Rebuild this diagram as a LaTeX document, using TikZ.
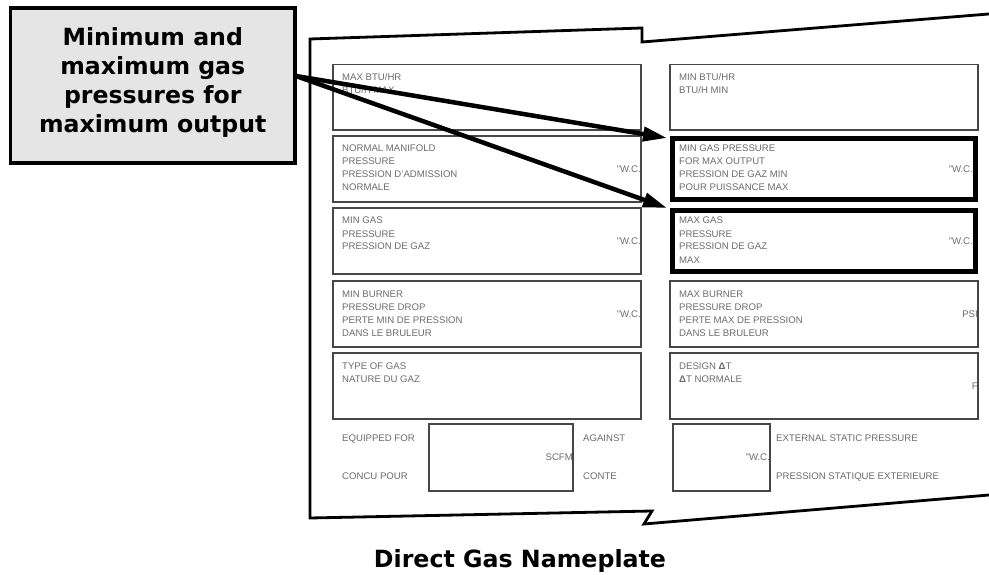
\documentclass[tikz,border=0pt]{standalone}
\usepackage{fontspec}
\setmainfont{Liberation Sans}
\newfontfamily\calfont{DejaVu Sans}
\usetikzlibrary{arrows.meta}
\def\uoff{0}
\newcommand\fieldbox[7][field]{%
  \node[#1, anchor=north west, minimum width={#5-#3}, minimum height={#6-#4}] (#2) at (#3,#4) {};
  \foreach \t [count=\i] in {#7} {\node[lbl] (#2-l\i) at ([shift={(9,3+13*\i)}]#2.north west) {\t};}
}
\newcommand\unitlabel[2]{\node[unit] (#1-u) at ([shift={(\uoff,3.4)}]#1.east) {#2};}
\begin{document}
\begin{tikzpicture}[x=1pt,y=-1pt,
  field/.style={draw=black!72, line width=1.1pt, inner sep=0pt, outer sep=0pt, rectangle},
  hotline/.style={draw=black, line width=5pt},
  lbl/.style={anchor=base west, inner sep=0pt, text=black!58, font=\fontsize{9.6}{11}\selectfont},
  unit/.style={anchor=base east, inner sep=0pt, text=black!58, font=\fontsize{9.6}{11}\selectfont},
  plate/.style={line width=2.8pt, line join=miter},
  pointer/.style={line width=4.5pt, -{Triangle[length=24pt,width=14pt]}},
  callbox/.style={draw=black, line width=3.5pt, fill=black!10, rectangle, inner sep=0pt},
  calltext/.style={align=center, inner sep=0pt, font=\calfont\bfseries\fontsize{23.6}{29}\selectfont},
  titletext/.style={inner sep=0pt, font=\calfont\bfseries\fontsize{23.7}{28}\selectfont}]
\useasboundingbox (0,0) rectangle (989,575);

% plate outline with break marks
\draw[plate] (995,13.5) -- (642,42) -- (642,28) -- (310,39) -- (310,518) -- (652,511) -- (644,524) -- (995,494.5);

% left column
\fieldbox{l1}{333}{64.5}{641}{130}{MAX BTU/HR,BTU/H MAX}
\fieldbox{l2}{333}{136}{641}{202}{NORMAL MANIFOLD,PRESSURE,PRESSION D'ADMISSION,NORMALE}
\unitlabel{l2}{"W.C.}
\fieldbox{l3}{333}{208}{641}{274}{MIN GAS,PRESSURE,PRESSION DE GAZ}
\unitlabel{l3}{"W.C.}
\fieldbox{l4}{333}{281}{641}{347}{MIN BURNER,PRESSURE DROP,PERTE MIN DE PRESSION,DANS LE BRULEUR}
\unitlabel{l4}{"W.C.}
\fieldbox{l5}{333}{353}{641}{419}{TYPE OF GAS,NATURE DU GAZ}

% right column
\fieldbox{r1}{670}{64.5}{978}{130}{MIN BTU/HR,BTU/H MIN}
\fieldbox[field,draw=none]{r2}{670}{136}{978}{202}{MIN GAS PRESSURE,FOR MAX OUTPUT,PRESSION DE GAZ MIN,POUR PUISSANCE MAX}
\draw[hotline] ([shift={(2.5,2.5)}]r2.north west) rectangle ([shift={(-2.5,-2.5)}]r2.south east);
\fieldbox[field,draw=none]{r3}{670}{208}{978}{274}{MAX GAS,PRESSURE,PRESSION DE GAZ,MAX}
\draw[hotline] ([shift={(2.5,2.5)}]r3.north west) rectangle ([shift={(-2.5,-2.5)}]r3.south east);
{\def\uoff{-5}\unitlabel{r2}{"W.C.}\unitlabel{r3}{"W.C.}}
\fieldbox{r4}{670}{281}{978}{347}{MAX BURNER,PRESSURE DROP,PERTE MAX DE PRESSION,DANS LE BRULEUR}
\unitlabel{r4}{PSI}
\fieldbox{r5}{670}{353}{978}{419}{DESIGN \textbf{Δ}T,\textbf{Δ}T NORMALE}
\unitlabel{r5}{F}

% bottom row
\node[field, anchor=north west, minimum width=144, minimum height=67] (scfm) at (429,424) {};
\unitlabel{scfm}{SCFM}
\node[field, anchor=north west, minimum width=97, minimum height=67] (esp) at (673,424) {};
\unitlabel{esp}{"W.C.}
\node[lbl] (eq1) at (342,441.4) {EQUIPPED FOR};
\node[lbl] (eq2) at (342,479.4) {CONCU POUR};
\node[lbl] (ag1) at (583,441.4) {AGAINST};
\node[lbl] (ag2) at (583,479.4) {CONTE};
\node[lbl] (ex1) at (776,441.4) {EXTERNAL STATIC PRESSURE};
\node[lbl] (ex2) at (776,479.4) {PRESSION STATIQUE EXTERIEURE};

% pointers
\coordinate (src) at (296,76);
\coordinate (tip1) at (667,138);
\coordinate (tip2) at (667,208);
\draw[pointer] (src) -- (tip1);
\draw[pointer] (src) -- (tip2);

% callout
\node[callbox, minimum width=284.5, minimum height=155] (callout) at (152.75,85.5) {};
\node[calltext] (calloutText) at (152.75,82.7) {Minimum and\\maximum gas\\pressures for\\maximum output};

% title
\node[titletext, anchor=base] (title) at (520,567.6) {Direct Gas Nameplate};
\end{tikzpicture}
\end{document}
